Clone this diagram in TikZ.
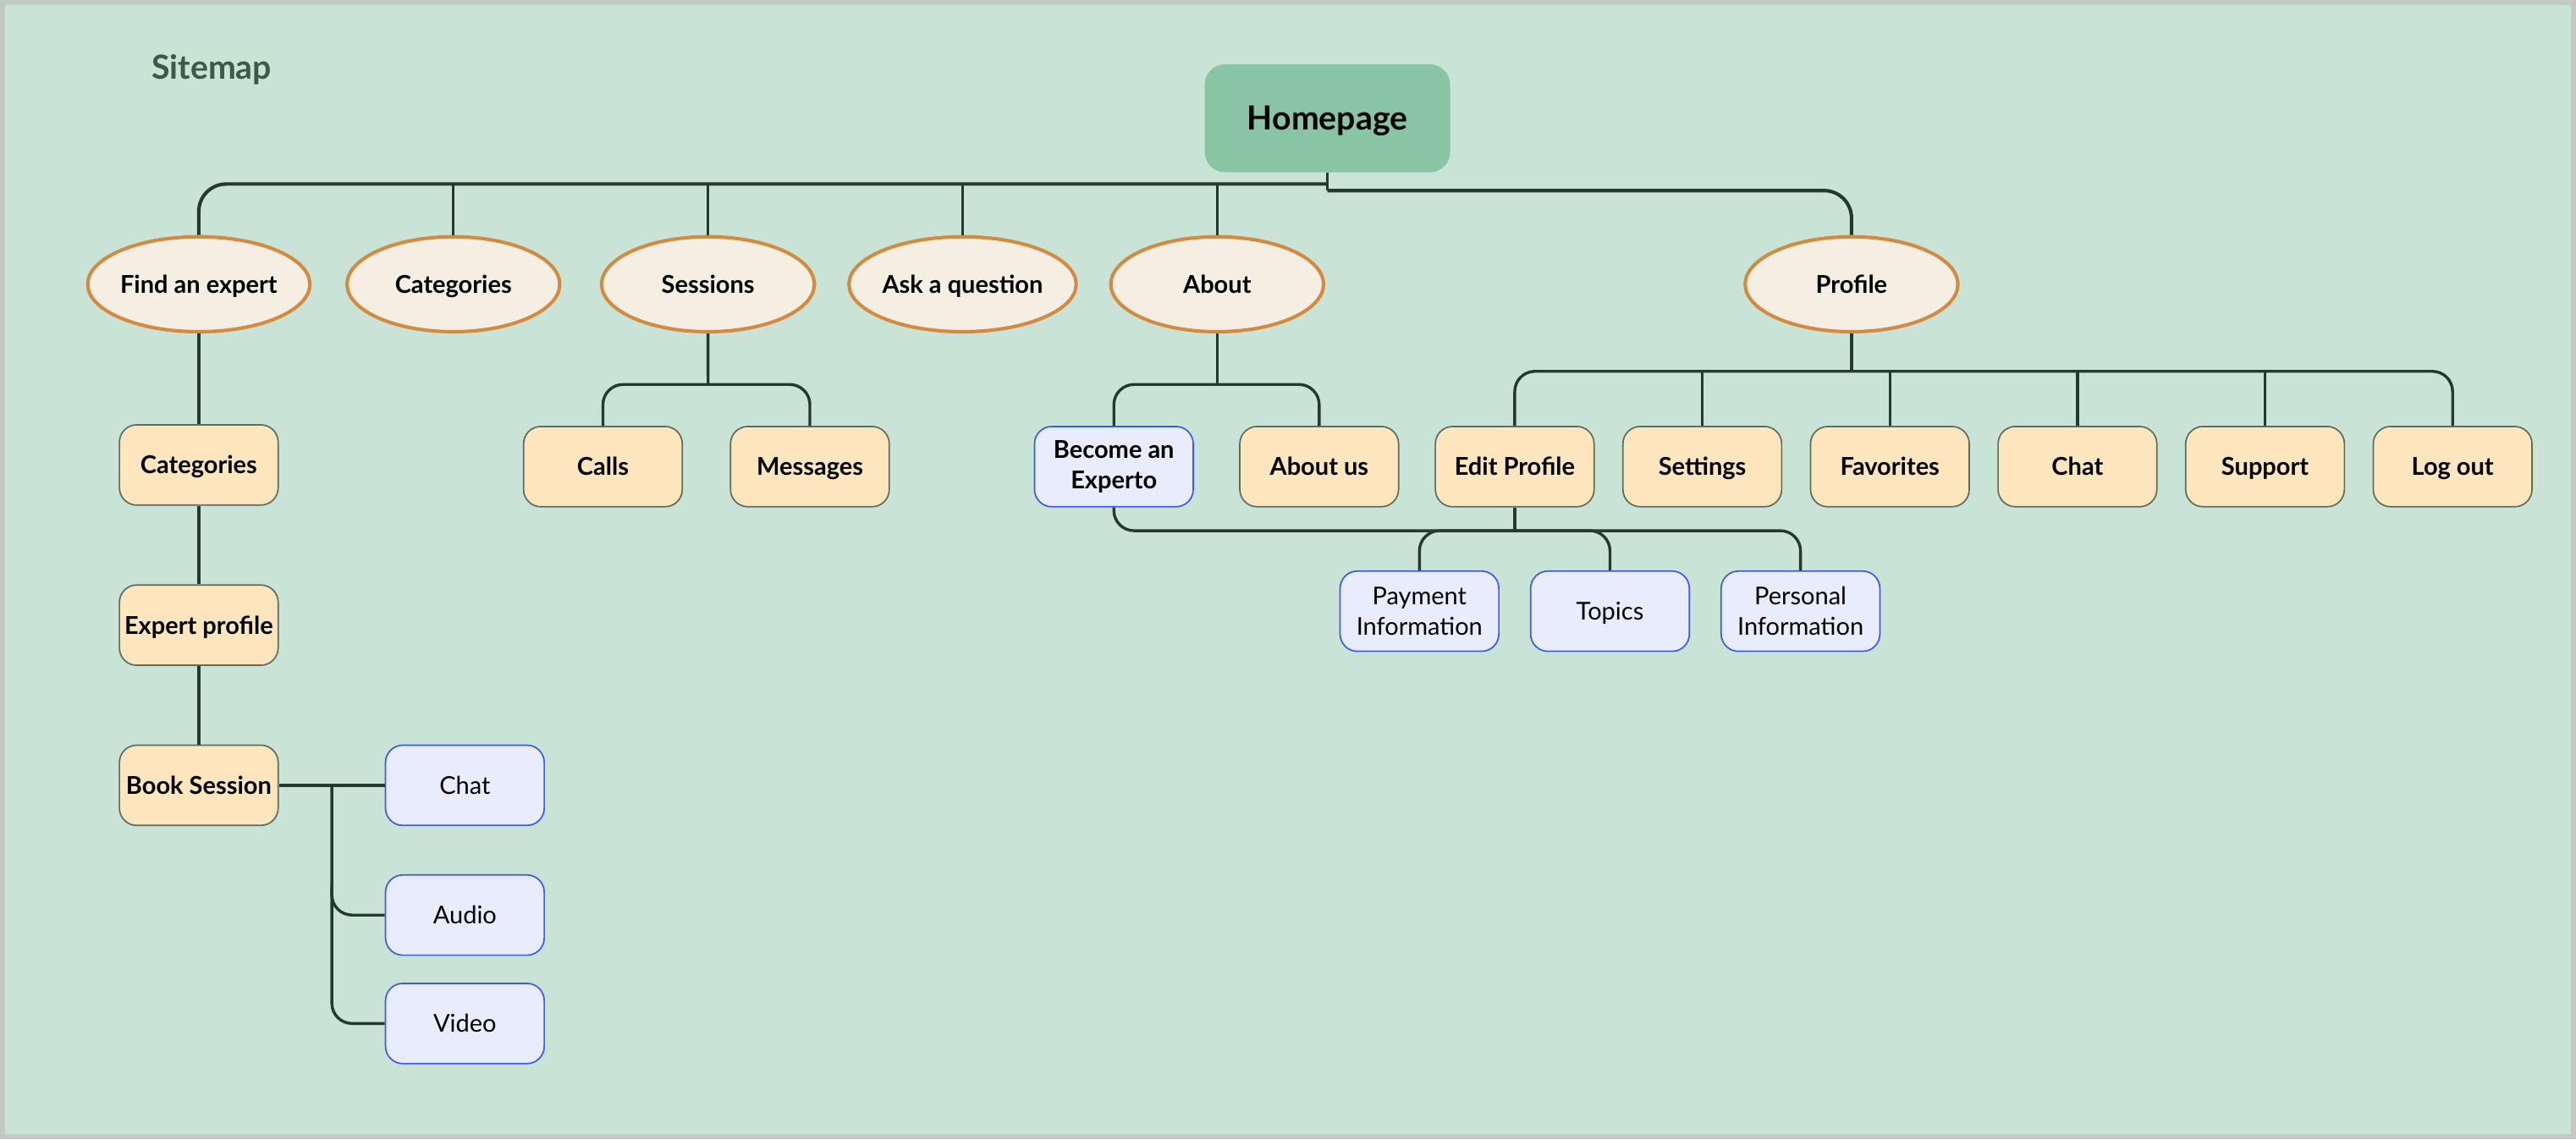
\documentclass[tikz,border=0pt]{standalone}
\usepackage{fontspec}
\setmainfont{Lato}
\usetikzlibrary{shapes.geometric,positioning}
\definecolor{bgc}{HTML}{C9E4D6}
\definecolor{framec}{HTML}{C3CAC6}
\definecolor{homec}{HTML}{89C5A5}
\definecolor{ellfill}{HTML}{F5EEE2}
\definecolor{elldraw}{HTML}{D38B42}
\definecolor{leaffill}{HTML}{FDE6BD}
\definecolor{leafdraw}{HTML}{5E6D5C}
\definecolor{subfill}{HTML}{E8ECFD}
\definecolor{subdraw}{HTML}{3B5BF0}
\definecolor{linec}{HTML}{233B2D}
\definecolor{titlec}{HTML}{3D5A48}

\begin{document}
\begin{tikzpicture}[x=0.02cm, y=-0.02cm,
  home/.style = {fill=homec, rounded corners=7pt, minimum width=85pt, minimum height=37.4pt, text height=8.3pt, text depth=0pt, font=\fontsize{11.5}{14}\selectfont\bfseries},
  ellip/.style = {draw=elldraw, fill=ellfill, ellipse, line width=1.2pt, inner sep=0pt, minimum width=73.7pt, minimum height=32.9pt, text height=6.1pt, text depth=0pt, font=\fontsize{8.5}{10.5}\selectfont\bfseries},
  leaf/.style = {draw=leafdraw, fill=leaffill, rounded corners=6pt, line width=0.5pt, inner sep=1pt, minimum width=55pt, minimum height=27.8pt, text height=6.1pt, text depth=0pt, align=center, font=\fontsize{8.5}{10.5}\selectfont\bfseries},
  subbox/.style = {leaf, draw=subdraw, fill=subfill, font=\fontsize{8.5}{10.5}\selectfont},
  twoline/.style = {text height=, text depth=},
  link/.style = {draw=linec, line width=1pt, rounded corners=7pt},
  bus/.style = {link, line width=1.2pt, rounded corners=9.5pt},
  node distance={3.1cm}]
\fill[framec] (0,0) rectangle (1568,693.35);
\fill[bgc] (3,3) rectangle (1565,690.35);
\useasboundingbox (0,0) rectangle (1568,693.35);
\node[anchor=base west, inner sep=0pt, text=titlec, font=\fontsize{11.5}{14}\selectfont\bfseries] (title) at (92,48) {Sitemap};

% top level
\node[home] (home) at (808,72) {Homepage};
\node[ellip] (find) at (121,173) {Find an expert};
\node[ellip] (cats) [right of=find] {Categories};
\node[ellip] (sess) [right of=cats] {Sessions};
\node[ellip] (ask) [right of=sess] {Ask a question};
\node[ellip] (about) [right of=ask] {About};
\node[ellip] (profile) at (1127,173) {Profile};

% find an expert
\node[leaf] (findcats) at (121,283) {Categories};
\node[leaf] (expert) [below of=findcats, node distance=1.95cm] {Expert profile};
\node[leaf] (book) [below of=expert, node distance=1.95cm] {Book Session};
\node[subbox] (chatb) [right of=book, node distance=3.24cm] {Chat};
\node[subbox] (audiob) [below of=chatb, node distance=1.58cm] {Audio};
\node[subbox] (videob) [below of=audiob, node distance=1.32cm] {Video};

% sessions, about
\node[leaf] (calls) at (367,284) {Calls};
\node[leaf] (msgs) [right of=calls, node distance=2.52cm] {Messages};
\node[subbox, twoline, font=\fontsize{8.5}{10.5}\selectfont\bfseries] (become) at (678,284) {Become an\\Experto};
\node[leaf] (aboutus) [right of=become, node distance=2.5cm] {About us};

% profile
\node[leaf] (editprof) at (922,284) {Edit Profile};
\node[leaf] (settings) [right of=editprof, node distance=2.284cm] {Settings};
\node[leaf] (favs) [right of=settings, node distance=2.284cm] {Favorites};
\node[leaf] (chatp) [right of=favs, node distance=2.284cm] {Chat};
\node[leaf] (support) [right of=chatp, node distance=2.284cm] {Support};
\node[leaf] (logout) [right of=support, node distance=2.284cm] {Log out};
\node[subbox, twoline] (payinfo) at (864,372) {Payment\\Information};
\node[subbox] (topics) [right of=payinfo, node distance=2.32cm] {Topics};
\node[subbox, twoline] (persinfo) [right of=topics, node distance=2.32cm] {Personal\\Information};

\coordinate (busL) at (808,112);
\coordinate (busR) at (808,116);
\coordinate (sessbus) at (431,234);
\coordinate (aboutbus) at (about.south |- sessbus);
\coordinate (profbus) at (1127,226);
\coordinate (editbus) at (922,323);
\coordinate (bksplit) at (202,478);
\coordinate (bkaudio) at (202,540);

\draw[bus] (find.north) |- (busL);
\foreach \n in {cats,sess,ask,about}
  \draw[link] (\n.north) -- (\n.north |- busL);
\draw[link] (home.south) -- (busR);
\draw[bus] (busR) -| (profile.north);

\draw[link] (find.south) -- (findcats.north);
\draw[link] (findcats.south) -- (expert.north);
\draw[link] (expert.south) -- (book.north);
\draw[link] (book.east) -- (chatb.west);
\draw[link] (bksplit) |- (videob.west);
\draw[link] (bkaudio) |- (audiob.west);

\draw[link] (sess.south) -- (sessbus);
\draw[link] (calls.north) |- (sessbus) -| (msgs.north);
\draw[link] (about.south) -- (aboutbus);
\draw[link] (become.north) |- (aboutbus) -| (aboutus.north);

\draw[link] (profile.south) -- (profbus);
\draw[link] (editprof.north) |- (profbus) -| (logout.north);
\foreach \n in {settings,favs,chatp,support}
  \draw[link] (\n.north) -- (\n.north |- profbus);
\draw[link] (editprof.south) -- (editbus);
\draw[link] (become.south) |- (editbus);
\draw[link] (payinfo.north) |- (editbus);
\draw[link] (editbus) -| (topics.north);
\draw[link] (editbus) -| (persinfo.north);
\end{tikzpicture}
\end{document}
